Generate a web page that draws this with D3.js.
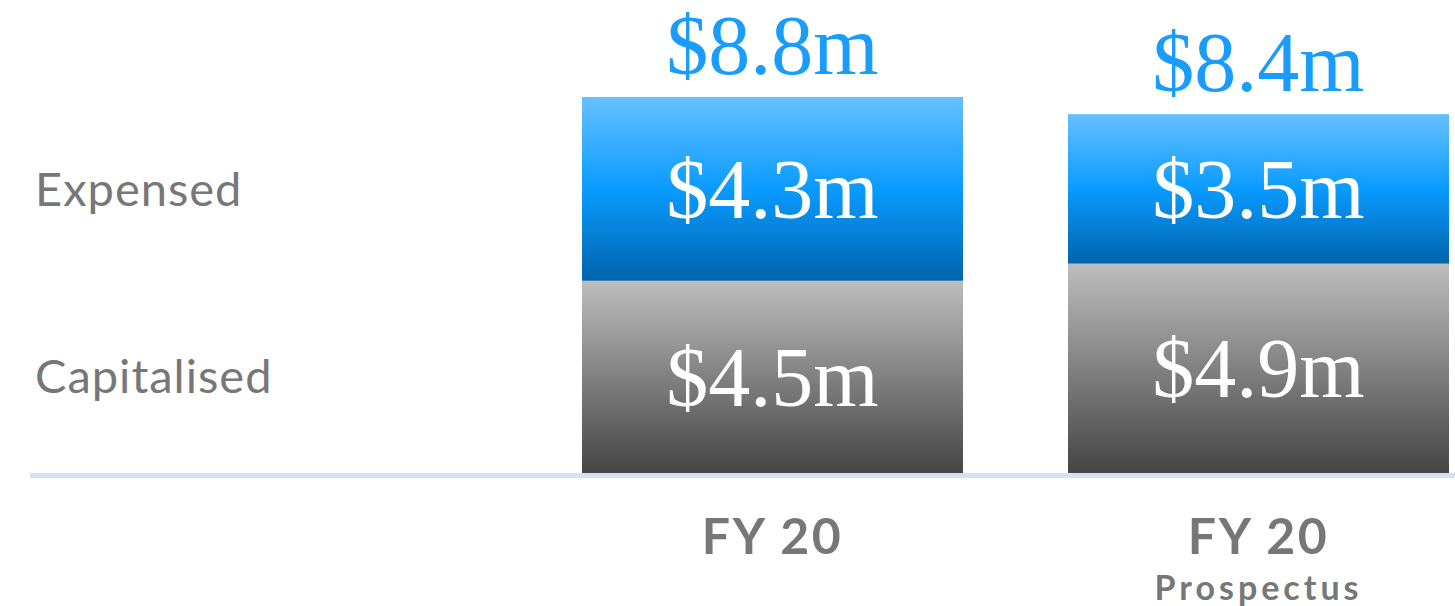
<!DOCTYPE html>
<html>
<head>
<meta charset="utf-8">
<script src="https://cdn.jsdelivr.net/npm/d3@7"></script>
<style>
  body { margin: 0; background: #fff; }
  svg { display: block; }
</style>
</head>
<body>
<script>
'use strict';

var categories = ['FY 20', 'FY 20 Prospectus'];
var catLines = [['FY 20'], ['FY 20', 'Prospectus']];
var capitalised = [4.5, 4.9];
var expensed = [4.3, 3.5];
var totals = [8.8, 8.4];
var seriesNames = ['Capitalised', 'Expensed'];

var W = 1455, H = 606;
var svg = d3.select('body').append('svg').attr('width', W).attr('height', H);

var defs = svg.append('defs');
var gBlue = defs.append('linearGradient').attr('id', 'gBlue').attr('x1', 0).attr('y1', 0).attr('x2', 0).attr('y2', 1);
gBlue.append('stop').attr('offset', '0%').attr('stop-color', '#66c0ff');
gBlue.append('stop').attr('offset', '50%').attr('stop-color', '#0a9bff');
gBlue.append('stop').attr('offset', '100%').attr('stop-color', '#0064ad');
var gGray = defs.append('linearGradient').attr('id', 'gGray').attr('x1', 0).attr('y1', 0).attr('x2', 0).attr('y2', 1);
gGray.append('stop').attr('offset', '0%').attr('stop-color', '#bdbdbd');
gGray.append('stop').attr('offset', '100%').attr('stop-color', '#454545');

var x = d3.scaleBand().domain(categories).range([582, 1449]).paddingInner(0.216).paddingOuter(0);
var y = d3.scaleLinear().domain([0, 8.8]).range([473, 97]);

var rows = categories.map(function (c, i) {
  return { cat: c, cap: capitalised[i], exp: expensed[i], total: totals[i], lines: catLines[i] };
});

var g = svg.append('g');

// capitalised segment
g.selectAll('.cap').data(rows).enter().append('rect')
  .attr('class', 'cap')
  .attr('x', function (d) { return x(d.cat); })
  .attr('width', x.bandwidth())
  .attr('y', function (d) { return y(d.cap); })
  .attr('height', function (d) { return y(0) - y(d.cap); })
  .attr('fill', 'url(#gGray)');

// expensed segment
g.selectAll('.exp').data(rows).enter().append('rect')
  .attr('class', 'exp')
  .attr('x', function (d) { return x(d.cat); })
  .attr('width', x.bandwidth())
  .attr('y', function (d) { return y(d.cap + d.exp); })
  .attr('height', function (d) { return y(d.cap) - y(d.cap + d.exp); })
  .attr('fill', 'url(#gBlue)');

var serif = '"Liberation Serif", "DejaVu Serif", serif';

g.selectAll('.capLabel').data(rows).enter().append('text')
  .attr('x', function (d) { return x(d.cat) + x.bandwidth() / 2; })
  .attr('y', function (d) { return (y(0) + y(d.cap)) / 2 + 29; })
  .attr('text-anchor', 'middle')
  .style('font-family', serif).style('font-size', '84px').style('fill', '#fff')
  .text(function (d) { return '$' + d.cap.toFixed(1) + 'm'; });

g.selectAll('.expLabel').data(rows).enter().append('text')
  .attr('x', function (d) { return x(d.cat) + x.bandwidth() / 2; })
  .attr('y', function (d) { return (y(d.cap) + y(d.cap + d.exp)) / 2 + 29; })
  .attr('text-anchor', 'middle')
  .style('font-family', serif).style('font-size', '84px').style('fill', '#fff')
  .text(function (d) { return '$' + d.exp.toFixed(1) + 'm'; });

g.selectAll('.totLabel').data(rows).enter().append('text')
  .attr('x', function (d) { return x(d.cat) + x.bandwidth() / 2; })
  .attr('y', function (d) { return y(d.total) - 23; })
  .attr('text-anchor', 'middle')
  .style('font-family', serif).style('font-size', '84px').style('fill', '#1a9cfd')
  .text(function (d) { return '$' + d.total.toFixed(1) + 'm'; });

// baseline
svg.append('rect').attr('x', 30).attr('y', y(0)).attr('width', W - 30).attr('height', 5).attr('fill', '#d4e3f3');

var sans = 'Lato, "Open Sans", sans-serif';

// category labels
var cl = g.selectAll('.catLabel').data(rows).enter().append('text')
  .attr('text-anchor', 'middle')
  .attr('x', function (d) { return x(d.cat) + x.bandwidth() / 2; })
  .style('font-family', sans).style('fill', '#777');
cl.append('tspan')
  .attr('x', function (d) { return x(d.cat) + x.bandwidth() / 2; })
  .attr('y', 554)
  .style('font-size', '50px').style('font-weight', 'bold').style('letter-spacing', '2.5px')
  .text(function (d) { return d.lines[0]; });
cl.filter(function (d) { return d.lines.length > 1; }).append('tspan')
  .attr('x', function (d) { return x(d.cat) + x.bandwidth() / 2; })
  .attr('y', 600)
  .style('font-size', '34px').style('font-weight', 'bold').style('letter-spacing', '4px')
  .text(function (d) { return d.lines[1]; });

// series labels on the left
var legY = [393, 206];
svg.selectAll('.legend').data(seriesNames).enter().append('text')
  .attr('x', 35)
  .attr('y', function (d, i) { return legY[i]; })
  .style('font-family', sans).style('font-size', '47px').style('fill', '#777')
  .style('letter-spacing', '1px')
  .text(function (d) { return d; });
</script>
</body>
</html>
